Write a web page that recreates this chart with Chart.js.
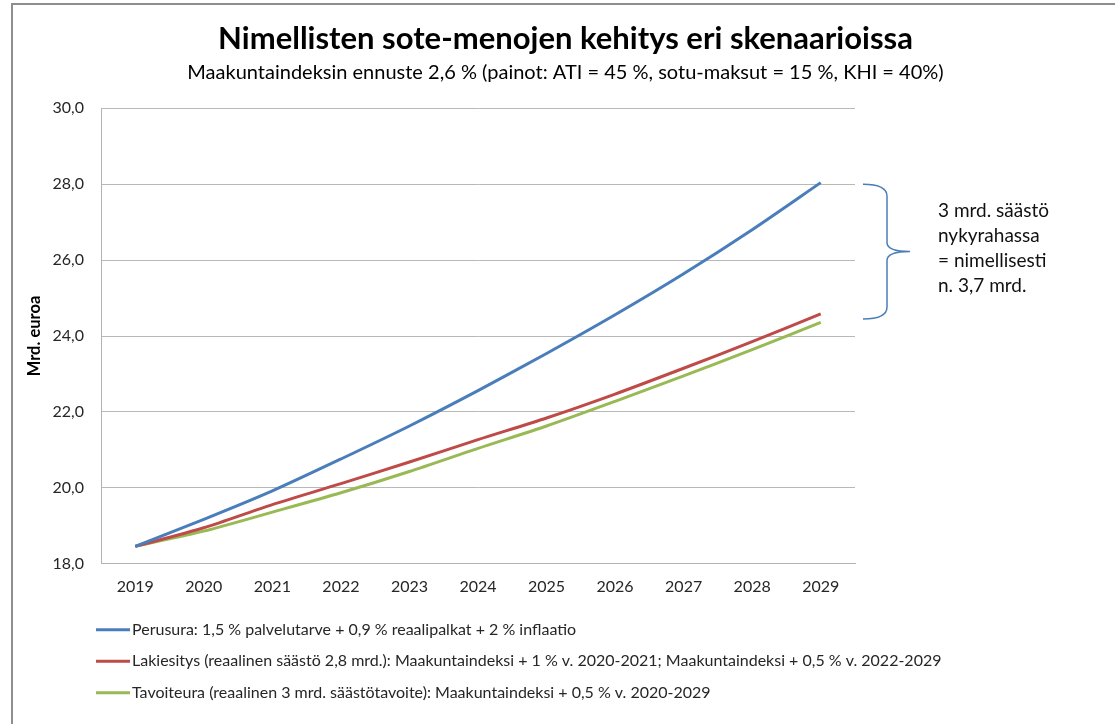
<!DOCTYPE html>
<html lang="fi">
<head>
<meta charset="utf-8">
<title>Nimellisten sote-menojen kehitys</title>
<script src="https://cdn.jsdelivr.net/npm/chart.js@4.4.1/dist/chart.umd.min.js"></script>
<style>
  html, body { margin: 0; padding: 0; background: #fff; overflow: hidden; }
  #frame { position: absolute; left: 11px; top: 3px; width: 1200px; height: 800px; border: 2px solid #8e8e8e; }
  #wrap { position: absolute; left: 0; top: 0; width: 1115px; height: 724px; }
</style>
</head>
<body>
<div id="frame"></div>
<div id="wrap"><canvas id="soteChart"></canvas></div>
<script>
// --- Data ---
const vuodet = ['2019', '2020', '2021', '2022', '2023', '2024', '2025', '2026', '2027', '2028', '2029'];

const perusura   = [18.46, 19.17, 19.92, 20.76, 21.63, 22.56, 23.54, 24.56, 25.64, 26.80, 28.04];
const lakiesitys = [18.46, 18.95, 19.56, 20.11, 20.68, 21.27, 21.84, 22.47, 23.15, 23.85, 24.58];
const tavoiteura = [18.46, 18.86, 19.36, 19.87, 20.43, 21.04, 21.63, 22.28, 22.95, 23.64, 24.36];

const sarjaNimet = [
    'Perusura: 1,5 % palvelutarve + 0,9 % reaalipalkat + 2 % inflaatio',
    'Lakiesitys (reaalinen säästö 2,8 mrd.): Maakuntaindeksi + 1 % v. 2020-2021; Maakuntaindeksi + 0,5 % v. 2022-2029',
    'Tavoiteura (reaalinen 3 mrd. säästötavoite): Maakuntaindeksi + 0,5 % v. 2020-2029'
];
const sarjaVarit = ['#4a7ebb', '#be4b48', '#98b954'];

const yAkseli = [18, 20, 22, 24, 26, 28, 30];

const huomautus = ['3 mrd. säästö', 'nykyrahassa', '= nimellisesti', 'n. 3,7 mrd.'];
const sulkuVali = [28.0, 24.45];

const FONTTI = 'Lato, "Open Sans", sans-serif';
const TEKSTI = '#262626';


// --- Omat piirto-osat: selite alas ja aaltosulku oikealle ---

const alaSelite = {
    id: 'alaSelite',
    afterDraw(chart) {
        const ctx = chart.ctx;
        const x0 = chart.chartArea.left - 5;
        const y0 = chart.chartArea.bottom + 66;
        ctx.save();
        ctx.font = `16px ${FONTTI}`;
        ctx.textBaseline = 'middle';
        ctx.textAlign = 'left';
        chart.data.datasets.forEach((ds, i) => {
            const y = y0 + i * 31.5;
            ctx.strokeStyle = ds.borderColor;
            ctx.lineWidth = 3;
            ctx.beginPath();
            ctx.moveTo(x0, y);
            ctx.lineTo(x0 + 34, y);
            ctx.stroke();
            ctx.fillStyle = TEKSTI;
            ctx.fillText(ds.label, x0 + 36, y);
        });
        ctx.restore();
    }
};

const aaltoSulku = {
    id: 'aaltoSulku',
    afterDraw(chart) {
        const ctx = chart.ctx;
        const yScale = chart.scales.y;
        const top = yScale.getPixelForValue(sulkuVali[0]);
        const bot = yScale.getPixelForValue(sulkuVali[1]);
        const mid = (top + bot) / 2;
        const x0 = chart.chartArea.right + 8;
        const xs = x0 + 24;
        const xt = x0 + 47;

        ctx.save();
        ctx.strokeStyle = sarjaVarit[0];
        ctx.lineWidth = 1.5;
        ctx.beginPath();
        ctx.moveTo(x0, top);
        ctx.quadraticCurveTo(xs, top, xs, top + 12);
        ctx.lineTo(xs, mid - 9);
        ctx.quadraticCurveTo(xs, mid, xt, mid);
        ctx.quadraticCurveTo(xs, mid, xs, mid + 9);
        ctx.lineTo(xs, bot - 12);
        ctx.quadraticCurveTo(xs, bot, x0, bot);
        ctx.stroke();

        ctx.font = `19px ${FONTTI}`;
        ctx.fillStyle = '#111';
        ctx.textBaseline = 'middle';
        ctx.textAlign = 'left';
        huomautus.forEach((rivi, i) => {
            ctx.fillText(rivi, xt + 28, mid - 41 + i * 25);
        });
        ctx.restore();
    }
};


// --- Kaavio ---

const datasets = [perusura, lakiesitys, tavoiteura].map((arvot, i) => ({
    label: sarjaNimet[i],
    data: arvot,
    borderColor: sarjaVarit[i],
    backgroundColor: sarjaVarit[i],
    borderWidth: 3,
    pointRadius: 0,
    tension: 0.25,
    fill: false,
    yAxisID: 'y'
}));

new Chart(document.getElementById('soteChart').getContext('2d'), {
    type: 'line',
    data: { labels: vuodet, datasets },
    options: {
        responsive: true,
        maintainAspectRatio: false,
        animation: false,
        layout: { padding: { left: 20, right: 4, top: 0, bottom: 115 } },
        scales: {
            x: {
                offset: true,
                grid: { display: false, drawTicks: false },
                border: { color: '#b3b3b3', width: 1 },
                ticks: { color: TEKSTI, font: { family: FONTTI, size: 16 }, padding: 13, maxRotation: 0 }
            },
            y: {
                min: 18,
                max: 30,
                afterBuildTicks: s => { s.ticks = yAkseli.map(v => ({ value: v })); },
                afterFit: s => { s.width = 81; },
                grid: { color: '#b8b8b8', lineWidth: 1, drawTicks: false },
                border: { color: '#b3b3b3', width: 1 },
                ticks: {
                    color: TEKSTI,
                    font: { family: FONTTI, size: 16 },
                    padding: 17,
                    callback: v => v.toFixed(1).replace('.', ',')
                },
                title: {
                    display: true,
                    text: 'Mrd. euroa',
                    color: '#000',
                    font: { family: FONTTI, size: 16.5, weight: 'bold' },
                    padding: { top: 5, bottom: 0 }
                }
            },
            oikea: {
                position: 'right',
                display: true,
                afterFit: s => { s.width = 256; },
                grid: { display: false },
                border: { display: false },
                ticks: { display: false }
            }
        },
        plugins: {
            legend: { display: false },
            tooltip: { enabled: false },
            title: {
                display: true,
                text: 'Nimellisten sote-menojen kehitys eri skenaarioissa',
                color: '#000',
                font: { family: FONTTI, size: 31, weight: 'bold' },
                padding: { top: 20, bottom: 0 }
            },
            subtitle: {
                display: true,
                text: 'Maakuntaindeksin ennuste 2,6 % (painot: ATI = 45 %, sotu-maksut = 15 %, KHI = 40%)',
                color: '#000',
                font: { family: FONTTI, size: 20 },
                padding: { top: 3, bottom: 24 }
            }
        }
    },
    plugins: [alaSelite, aaltoSulku]
});
</script>
</body>
</html>
